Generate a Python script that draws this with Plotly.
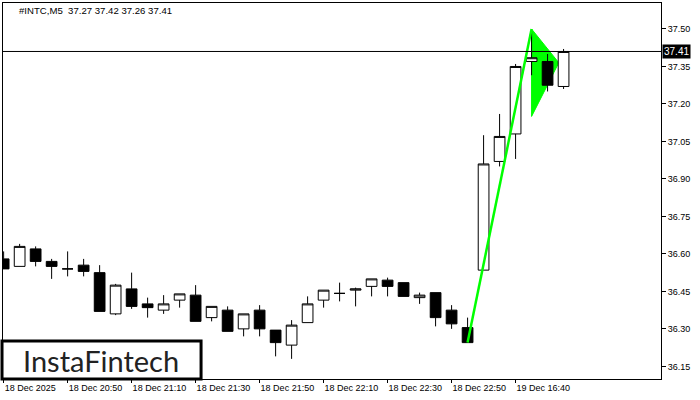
import plotly.graph_objects as go

# ---- data ----
opens = [36.58, 36.55, 36.62, 36.57, 36.54, 36.555, 36.525, 36.36, 36.46, 36.40,
         36.375, 36.415, 36.435, 36.345, 36.375, 36.30, 36.375, 36.295, 36.235, 36.325,
         36.415, 36.442, 36.455, 36.47, 36.495, 36.485, 36.425, 36.445, 36.375, 36.305,
         36.535, 36.97, 37.08, 37.37, 37.37, 37.27]
highs = [36.61, 36.64, 36.63, 36.58, 36.61, 36.58, 36.555, 36.48, 36.525, 36.425,
         36.435, 36.44, 36.475, 36.39, 36.39, 36.36, 36.395, 36.295, 36.335, 36.43,
         36.455, 36.485, 36.465, 36.50, 36.505, 36.485, 36.445, 36.445, 36.395, 36.345,
         37.075, 37.16, 37.36, 37.49, 37.40, 37.42]
lows = [36.54, 36.55, 36.55, 36.50, 36.51, 36.51, 36.37, 36.355, 36.38, 36.345,
        36.36, 36.385, 36.33, 36.33, 36.29, 36.27, 36.27, 36.19, 36.18, 36.325,
        36.385, 36.41, 36.39, 36.43, 36.43, 36.43, 36.40, 36.31, 36.30, 36.245,
        36.535, 36.95, 36.98, 37.315, 37.25, 37.26]
closes = [36.54, 36.63, 36.57, 36.55, 36.54, 36.53, 36.37, 36.475, 36.39, 36.385,
          36.40, 36.44, 36.33, 36.39, 36.29, 36.36, 36.30, 36.245, 36.315, 36.40,
          36.455, 36.442, 36.46, 36.50, 36.47, 36.43, 36.435, 36.345, 36.32, 36.245,
          36.96, 37.07, 37.35, 37.385, 37.275, 37.41]
bar_index = list(range(len(opens)))

tick_index = [0, 4, 8, 12, 16, 20, 24, 28, 32]
tick_labels = ["18 Dec 2025", "18 Dec 20:50", "18 Dec 21:10", "18 Dec 21:30",
               "18 Dec 21:50", "18 Dec 22:10", "18 Dec 22:30", "18 Dec 22:50",
               "19 Dec 16:40"]
price_ticks = [36.15, 36.30, 36.45, 36.60, 36.75, 36.90, 37.05, 37.20, 37.35, 37.50]

# bullish pennant pattern
pole_x = [29, 33]
pole_y = [36.245, 37.50]
pennant_x = [33, 34.7, 33]
pennant_y = [37.50, 37.365, 37.15]

last_price = 37.41
header = "#INTC,M5  37.27 37.42 37.26 37.41"

GREEN = "#00FF00"
FONT = "Liberation Sans"

fig = go.Figure()

# pennant triangle beneath the candles
pennant_path = "M " + " L ".join(f"{x},{y}" for x, y in zip(pennant_x, pennant_y)) + " Z"
fig.add_shape(type="path", xref="x", yref="y", path=pennant_path,
              fillcolor=GREEN, line=dict(color=GREEN, width=1), layer="below")

fig.add_trace(go.Candlestick(
    x=bar_index, open=opens, high=highs, low=lows, close=closes,
    increasing=dict(line=dict(color="black", width=1), fillcolor="white"),
    decreasing=dict(line=dict(color="black", width=1), fillcolor="black"),
    whiskerwidth=0, showlegend=False, hoverinfo="skip"))

fig.add_trace(go.Scatter(
    x=pole_x, y=pole_y, mode="lines", line=dict(color=GREEN, width=2.5),
    hoverinfo="skip", showlegend=False))

fig.add_shape(type="line", xref="paper", x0=0, x1=1, yref="y",
              y0=last_price, y1=last_price, line=dict(color="black", width=1),
              layer="above")

fig.add_annotation(xref="paper", x=1.002, yref="y", y=last_price,
                   text=f"{last_price:.2f}", showarrow=False, xanchor="left",
                   yanchor="middle", bgcolor="black",
                   font=dict(family=FONT, size=10, color="white"),
                   borderpad=1)

fig.add_annotation(xref="paper", x=0.021, yref="paper", y=0.979,
                   text=header, showarrow=False, xanchor="left", yanchor="middle",
                   font=dict(family=FONT, size=9.6, color="black"))

# logo box
fig.add_shape(type="rect", xref="paper", yref="paper", x0=-0.0015, x1=0.301,
              y0=0.0, y1=0.101, line=dict(color="black", width=3),
              fillcolor="white", layer="above")
fig.add_annotation(xref="paper", x=0.149, yref="paper", y=0.05,
                   text="InstaFintech", showarrow=False, xanchor="center",
                   yanchor="middle",
                   font=dict(family="Lato", size=29, color="#222222"))

fig.update_layout(
    width=700, height=400,
    margin=dict(l=3, r=39, t=3, b=21),
    paper_bgcolor="white", plot_bgcolor="white",
    boxgap=0.33, boxgroupgap=0,
    xaxis=dict(range=[-0.04, 41.09], tickmode="array", tickvals=tick_index,
               ticktext=tick_labels, showgrid=False, zeroline=False,
               showline=True, linecolor="black", linewidth=1, mirror=True,
               ticks="outside", ticklen=3, tickcolor="black",
               ticklabelposition="outside right", automargin=False,
               tickfont=dict(family=FONT, size=9, color="black"),
               rangeslider=dict(visible=False), fixedrange=True),
    yaxis=dict(range=[36.0994, 37.604], side="right", tickmode="array",
               tickvals=price_ticks, ticktext=[f"{v:.2f}" for v in price_ticks],
               showgrid=False, zeroline=False, showline=True, linecolor="black",
               linewidth=1, mirror=True, ticks="outside", ticklen=4,
               tickcolor="black", automargin=False,
               tickfont=dict(family=FONT, size=9, color="black"),
               fixedrange=True),
    hovermode=False,
)

fig.write_html("out.html", config={"displayModeBar": False},
               post_script="document.body.style.margin='0';document.body.style.overflow='hidden';")
